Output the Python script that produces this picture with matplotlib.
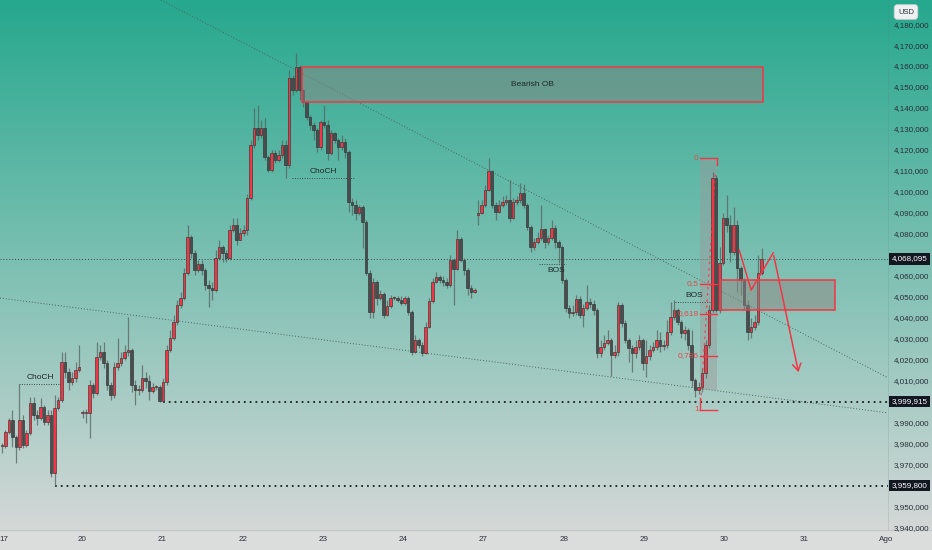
import numpy as np
import matplotlib
matplotlib.use("Agg")
import matplotlib.pyplot as plt
from matplotlib.patches import Rectangle
import matplotlib.transforms as mtransforms

plt.rcParams['font.family'] = ['Liberation Sans Narrow', 'Liberation Sans', 'DejaVu Sans']

# hourly candles (open = previous close, except after gaps)
closes = [
    3978.8, 3985.4, 3991.2, 3983.0, 3978.3, 3991.2, 3979.2, 3985.0, 3999.3, 3993.5, 3992.1, 3997.4,
    3990.2, 3993.5, 3965.9, 3996.9, 4000.7, 4018.8, 4014.0, 4009.3, 4011.2, 4015.0, 4016.4,
    3994.5, 3994.5, 4007.9, 4004.1, 4021.2, 4023.6, 4018.3, 4007.9, 4003.0, 4016.4, 4018.3, 4020.7,
    4023.6, 4024.5, 4007.9, 4005.5, 4005.5, 4011.2, 4009.8, 4005.0, 4006.9, 4006.9, 4000.2, 4009.3,
    4024.5, 4030.3, 4038.0, 4046.0, 4049.3, 4061.3, 4078.4, 4070.8, 4062.7, 4065.6, 4062.7, 4055.6,
    4054.1, 4053.2, 4068.5, 4073.7, 4070.8, 4068.5, 4081.8, 4084.2, 4077.0,
    4080.3, 4081.8, 4097.0, 4122.3, 4130.4, 4127.1, 4130.4, 4116.5, 4110.3, 4118.5, 4115.0, 4117.4,
    4122.3, 4112.7, 4154.3, 4148.6, 4159.5, 4148.6, 4142.8, 4135.7, 4131.9, 4129.5, 4121.4, 4133.3,
    4131.9, 4118.5, 4128.0, 4124.7, 4121.4, 4123.8, 4119.0, 4095.1, 4093.7, 4089.9, 4092.7, 4085.6,
    4061.3, 4042.7, 4057.0, 4049.3, 4051.2, 4041.2, 4045.5, 4049.3, 4049.3, 4048.4,
    4047.0, 4049.3, 4042.7, 4023.6, 4029.3, 4026.9, 4023.1, 4035.5, 4047.9, 4057.0, 4059.4, 4057.9,
    4057.0, 4055.6, 4067.5, 4063.2, 4077.5, 4067.5, 4062.7, 4054.1, 4052.2, 4053.2,
    4089.9, 4093.7, 4100.8, 4109.9, 4093.7, 4090.4, 4093.7, 4095.1, 4096.1, 4087.5, 4095.1, 4096.1,
    4099.4, 4093.7, 4083.2, 4073.7, 4076.0, 4078.0, 4082.2, 4076.0, 4078.0, 4082.7, 4076.0, 4073.7,
    4057.9, 4044.6, 4042.2, 4042.7, 4048.9, 4041.2, 4044.6, 4047.4, 4046.5, 4043.6, 4023.1, 4026.0,
    4027.8, 4029.3, 4022.1, 4023.6, 4046.0, 4037.3, 4029.3, 4025.5, 4023.1, 4026.0, 4029.3,
    4018.3, 4021.7, 4024.5, 4026.0, 4029.3, 4026.4, 4026.9, 4033.1, 4040.3, 4043.6, 4037.9, 4032.6,
    4034.1, 4026.9, 4010.2, 4005.5, 4006.9, 4013.6, 4026.9, 4043.6, 4106.6, 4043.6, 4066.0,
    4087.5, 4084.2, 4071.3, 4084.2, 4063.7, 4057.9, 4046.0, 4033.1, 4035.5, 4037.9, 4061.3, 4068.1,
]
highs = [
    3980.2, 3986.4, 3992.1, 3995.9, 3984.0, 4008.3, 3993.5, 3986.4, 4002.1, 4002.1, 3995.9, 4001.6,
    3998.3, 3995.9, 3995.9, 4003.0, 4002.1, 4023.6, 4023.6, 4015.9, 4014.0, 4018.8, 4026.9,
    3995.9, 3996.4, 4010.2, 4008.8, 4028.4, 4026.9, 4028.4, 4019.7, 4009.3, 4018.8, 4030.3, 4023.6,
    4026.9, 4040.3, 4025.5, 4010.2, 4007.9, 4017.4, 4014.0, 4012.6, 4008.8, 4007.9, 4007.9, 4011.2,
    4026.9, 4034.1, 4041.3, 4048.4, 4052.2, 4063.7, 4084.2, 4079.4, 4072.2, 4067.5, 4067.5, 4063.7,
    4057.9, 4056.9, 4072.2, 4077.0, 4074.6, 4072.2, 4084.2, 4087.5, 4087.5,
    4082.7, 4084.2, 4098.9, 4124.7, 4139.9, 4141.4, 4134.3, 4135.2, 4117.4, 4119.9, 4119.9, 4119.9,
    4124.7, 4124.7, 4158.1, 4155.7, 4166.2, 4160.5, 4149.0, 4143.8, 4136.6, 4133.3, 4130.4, 4134.3,
    4141.4, 4134.3, 4129.5, 4128.5, 4125.7, 4127.1, 4125.7, 4119.9, 4097.0, 4096.1, 4093.7, 4093.7,
    4086.5, 4062.7, 4058.9, 4057.9, 4053.1, 4052.2, 4048.4, 4050.8, 4050.3, 4050.3,
    4050.3, 4050.3, 4050.3, 4043.6, 4031.7, 4030.3, 4028.4, 4037.9, 4049.3, 4058.9, 4061.8, 4060.4,
    4059.9, 4058.9, 4069.9, 4068.5, 4081.8, 4078.5, 4068.5, 4063.7, 4055.6, 4054.1,
    4096.1, 4096.1, 4103.2, 4116.0, 4110.3, 4095.1, 4096.1, 4098.0, 4098.5, 4105.6, 4097.0, 4098.0,
    4104.2, 4103.7, 4094.6, 4084.2, 4078.0, 4080.8, 4093.7, 4082.7, 4079.4, 4086.5, 4084.2, 4077.0,
    4074.6, 4058.9, 4046.0, 4046.0, 4050.8, 4050.3, 4046.5, 4055.6, 4049.3, 4048.4, 4044.6, 4029.3,
    4031.7, 4034.1, 4030.3, 4026.9, 4047.4, 4046.9, 4038.8, 4030.3, 4026.9, 4029.3, 4031.7,
    4030.3, 4029.3, 4026.9, 4028.4, 4034.1, 4033.1, 4029.3, 4038.8, 4047.4, 4048.4, 4044.6, 4038.8,
    4036.0, 4035.0, 4034.1, 4011.2, 4009.3, 4015.9, 4029.3, 4046.0, 4109.4, 4108.0, 4073.7,
    4089.9, 4098.5, 4088.9, 4092.7, 4086.5, 4064.7, 4058.9, 4048.4, 4039.8, 4041.2, 4069.9, 4073.2,
]
lows = [
    3975.4, 3977.9, 3984.5, 3978.3, 3970.6, 3976.8, 3977.9, 3978.3, 3984.0, 3991.2, 3988.8, 3991.2,
    3988.8, 3988.8, 3964.0, 3959.8, 3995.9, 3999.8, 4011.2, 4005.5, 4007.9, 4009.3, 4014.0,
    3992.1, 3989.7, 3982.5, 4001.6, 4003.0, 4019.7, 4015.9, 4005.5, 4000.7, 4001.6, 4015.0, 4016.9,
    4019.7, 4021.7, 4004.5, 3998.3, 4003.0, 4004.5, 4006.5, 4000.7, 4004.1, 4005.5, 3999.9, 3999.9,
    4007.9, 4023.6, 4029.3, 4036.5, 4044.6, 4048.4, 4060.4, 4068.5, 4060.4, 4061.8, 4060.4, 4053.2,
    4045.1, 4048.4, 4052.2, 4067.5, 4066.6, 4066.6, 4067.5, 4080.8, 4074.6,
    4077.0, 4078.9, 4079.4, 4096.1, 4120.8, 4124.7, 4125.6, 4115.0, 4109.4, 4109.4, 4113.6, 4114.1,
    4116.0, 4106.6, 4111.3, 4146.2, 4147.6, 4143.8, 4140.5, 4134.3, 4129.5, 4124.7, 4119.0, 4119.9,
    4130.4, 4115.0, 4117.4, 4123.3, 4115.0, 4119.9, 4116.0, 4090.4, 4088.9, 4086.5, 4088.9, 4073.2,
    4060.4, 4039.8, 4039.8, 4046.0, 4048.4, 4039.8, 4040.8, 4044.6, 4048.4, 4047.4,
    4046.0, 4046.0, 4041.2, 4022.1, 4023.1, 4025.5, 4021.7, 4022.6, 4035.0, 4047.0, 4056.5, 4056.5,
    4055.1, 4054.1, 4054.6, 4046.0, 4062.7, 4066.6, 4060.4, 4050.8, 4049.3, 4051.7,
    4084.2, 4089.4, 4092.7, 4100.3, 4092.3, 4086.5, 4089.9, 4092.7, 4093.7, 4085.6, 4087.1, 4093.7,
    4094.6, 4092.3, 4081.8, 4071.3, 4072.2, 4075.1, 4077.0, 4073.2, 4074.6, 4077.0, 4073.2, 4066.1,
    4056.5, 4042.7, 4039.8, 4040.8, 4041.2, 4039.8, 4035.5, 4043.6, 4044.6, 4041.2, 4020.6, 4021.2,
    4024.5, 4026.9, 4012.1, 4020.6, 4021.7, 4035.5, 4027.8, 4018.8, 4014.0, 4020.6, 4024.5,
    4015.0, 4011.6, 4019.7, 4023.6, 4024.5, 4023.6, 4024.5, 4025.5, 4031.7, 4038.8, 4036.5, 4030.3,
    4029.3, 4024.5, 4006.9, 4002.1, 4003.5, 4004.5, 4011.2, 4025.5, 4042.7, 4042.7, 4042.2,
    4065.0, 4080.8, 4066.6, 4069.9, 4052.2, 4050.8, 4043.6, 4029.3, 4030.3, 4034.1, 4036.5, 4060.4,
]
gap_opens = {0: 3978.8, 23: 3994.5, 136: 4088.9}

day_labels = ['17', '20', '21', '22', '23', '24', '27', '28', '29', '30', '31', 'Ago']
day_starts = [0.6, 23, 45.7, 68.9, 91.7, 114.6, 137.4, 160.6, 183.4, 206.3, 229.1, 252.6]

last_price = 4068.095
level_mid = 3999.915
level_low = 3959.8
ob_box = (85.7, 217.4, 4142.8, 4159.5)      # x0, x1, bottom, top
zone_box = (205.1, 238.0, 4043.6, 4057.9)
fib_x = (199.4, 204.3)
fib_hi, fib_lo = 4116.1, 3995.9
fib_levels = [0, 0.5, 0.618, 0.786, 1]
fib_names = ['0', '0,5', '0,618', '0,786', '1']
path_x = [210.6, 214.0, 220.3, 227.7]
path_y = [4072.2, 4053.1, 4070.8, 4012.6]

RED = '#f23645'
TXT = '#1f2a28'

n = len(closes)
opens = [gap_opens.get(i, closes[i - 1] if i else closes[0]) for i in range(n)]
xs = np.arange(n)

W, H = 932, 550
fig = plt.figure(figsize=(W / 100, H / 100), dpi=100)

# background gradient
bg = fig.add_axes([0, 0, 1, 1], zorder=-5)
bg.axis('off')
top_c = np.array([38, 168, 142]) / 255
bot_c = np.array([212, 216, 215]) / 255
rows = np.linspace(0, 1, 530)[:, None]
grad = top_c * (1 - rows) + bot_c * rows
strip = np.tile(np.array([219, 221, 221]) / 255, (20, 1))
img = np.vstack([grad, strip])[:, None, :]
bg.imshow(img, extent=[0, 1, 0, 1], aspect='auto')
bg.plot([0, 1], [20 / H, 20 / H], color='#c2c6c6', lw=0.8)
bg.plot([888 / W, 888 / W], [20 / H, 1], color='#5f7a74', lw=0.5, alpha=0.25)
bg.set_xlim(0, 1)
bg.set_ylim(0, 1)

ax = fig.add_axes([0, 20 / H, 888 / W, 530 / H])
ax.patch.set_alpha(0)
ax.set_xlim(-0.57, 253.1)
ax.set_ylim(3938.6, 4191.5)
for s in ax.spines.values():
    s.set_visible(False)

# candles
for i in range(n):
    o, c = opens[i], closes[i]
    hi = max(highs[i], o, c)
    lo = min(lows[i], o, c)
    ax.vlines(xs[i], lo, hi, color='#56625f', lw=0.9, alpha=0.75, zorder=2)
    up = c >= o
    body = max(abs(c - o), 0.5)
    ax.bar(xs[i], body, bottom=min(o, c), width=0.78,
           color=RED if up else '#4a4c4e', edgecolor='#2b2b2b', linewidth=0.4, zorder=3)

# trend lines
ax.plot([45.4, 253.1], [4191.5, 4011.2], color='#4f6661', lw=0.7, ls=(0, (1, 2)), zorder=1)
ax.plot([-0.57, 253.1], [4049.3, 3994.5], color='#4f6661', lw=0.7, ls=(0, (1, 2)), zorder=1)

# horizontal levels
ax.axhline(last_price, color='#3b4a47', lw=0.7, ls=(0, (1, 2)), zorder=1)
ax.plot([46, 253.1], [level_mid, level_mid], color='#1c1f22', lw=1.3, ls=(0, (1, 2.2)), zorder=1)
ax.plot([15, 253.1], [level_low, level_low], color='#1c1f22', lw=1.3, ls=(0, (1, 2.2)), zorder=1)

# Bearish OB and zone boxes
for (x0, x1, b, t) in [ob_box, zone_box]:
    ax.add_patch(Rectangle((x0, b), x1 - x0, t - b, facecolor=(0.55, 0.53, 0.51), alpha=0.5,
                           edgecolor='none', zorder=4))
    ax.add_patch(Rectangle((x0, b), x1 - x0, t - b, facecolor='none', edgecolor=RED, lw=1.1, zorder=5))
ax.text((ob_box[0] + ob_box[1]) / 2, (ob_box[2] + ob_box[3]) / 2, 'Bearish OB',
        ha='center', va='center', fontsize=6, color=TXT, zorder=6)

# fib retracement
ax.add_patch(Rectangle((fib_x[0], 4005.4), fib_x[1] - fib_x[0], fib_hi - 4005.4,
                       facecolor='#9a9a9a', alpha=0.45, edgecolor='none', zorder=1.5))
for lv, name in zip(fib_levels, fib_names):
    py = fib_hi - lv * (fib_hi - fib_lo)
    ax.plot(fib_x, [py, py], color=RED, lw=1.0, zorder=6)
    ax.text(fib_x[0] - 0.4, py, name, ha='right', va='center', fontsize=6, color='#e04a50', zorder=6)
ax.plot([fib_x[1], fib_x[1]], [fib_hi, fib_hi - 3.3], color=RED, lw=1.0, zorder=6)
ax.plot([fib_x[0], fib_x[0]], [fib_lo, fib_lo + 5.7], color=RED, lw=1.0, zorder=6)
ax.plot([fib_x[0] + 0.2, fib_x[1] - 0.5], [fib_lo + 4, fib_hi - 6], color=RED, lw=0.9,
        ls=(0, (2, 3)), alpha=0.8, zorder=6)

# structure labels
ax.plot([5, 17], [4008.3, 4008.3], color='#3b4a47', lw=0.7, ls=(0, (1, 1.5)), zorder=2)
ax.text(11, 4009.5, 'ChoCH', ha='center', va='bottom', fontsize=6, color=TXT)
ax.plot([82.9, 100.6], [4106.6, 4106.6], color='#3b4a47', lw=0.7, ls=(0, (1, 1.5)), zorder=2)
ax.text(91.7, 4107.8, 'ChoCH', ha='center', va='bottom', fontsize=6, color=TXT)
ax.plot([153.4, 161], [4065.7, 4065.7], color='#3b4a47', lw=0.7, ls=(0, (1, 1.5)), zorder=2)
ax.text(158.3, 4064.3, 'BOS', ha='center', va='top', fontsize=6, color=TXT)
ax.plot([192.3, 202.9], [4047.4, 4047.4], color='#3b4a47', lw=0.7, ls=(0, (1, 1.5)), zorder=2)
ax.text(197.7, 4048.6, 'BOS', ha='center', va='bottom', fontsize=6, color=TXT, zorder=7)

# projected path
ax.plot(path_x[:-1], path_y[:-1], color=RED, lw=1.1, zorder=7)
ax.annotate('', xy=(path_x[-1], path_y[-1]), xytext=(path_x[-2], path_y[-2]),
            arrowprops=dict(arrowstyle='->,head_length=0.5,head_width=0.3', color=RED, lw=1.1),
            zorder=7)

# axes ticks (labels under the price boxes are hidden, as in the original)
yt = np.arange(3940, 4181, 10)
hidden = {3960, 4000, 4070}
ax.yaxis.tick_right()
ax.set_yticks(yt)
ax.set_yticklabels(['' if int(v) in hidden else f'{v:,.3f}'.replace('.', ',') for v in yt])
ax.tick_params(axis='y', length=0, pad=4, labelsize=5.8, labelcolor='#2a2e39')
ax.set_xticks(day_starts)
ax.set_xticklabels(day_labels)
ax.tick_params(axis='x', length=0, pad=4, labelsize=5.8, labelcolor='#2a2e39')

# price label boxes
trans = mtransforms.blended_transform_factory(ax.transAxes, ax.transData)
for v in [last_price, level_mid, level_low]:
    ax.text(1.004, v, f'{v:,.3f}'.replace('.', ','), transform=trans, ha='left', va='center',
            fontsize=5.8, color='white', zorder=10, clip_on=False,
            bbox=dict(boxstyle='square,pad=0.3', facecolor='#131722', edgecolor='none'))

fig.text(906 / W, 1 - 12 / H, 'USD', ha='center', va='center', fontsize=5.5, color='#2a2e39',
         zorder=20, bbox=dict(boxstyle='round,pad=0.5,rounding_size=0.4', facecolor='#eef1f1',
                              edgecolor='#c9cdcd', lw=0.6))

fig.savefig('out.png', dpi=100)
